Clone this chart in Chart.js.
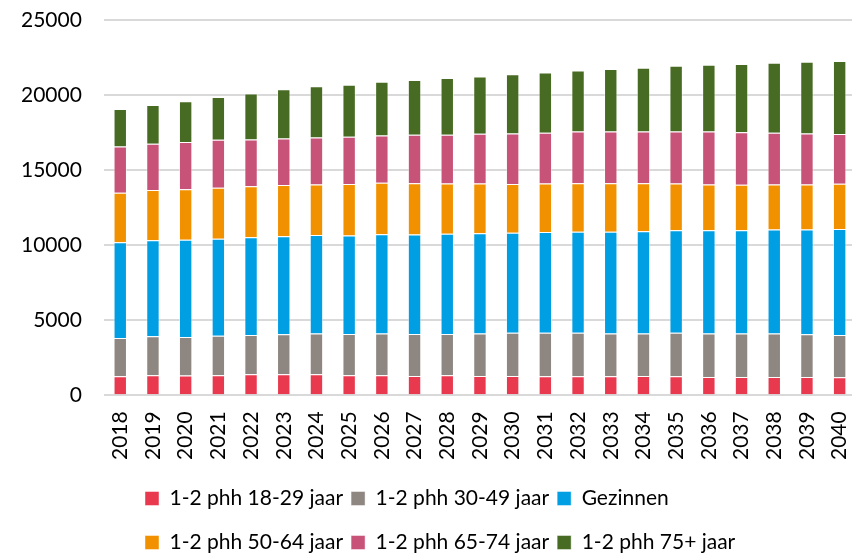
<!DOCTYPE html>
<html>
<head>
<meta charset="utf-8">
<script src="https://cdn.jsdelivr.net/npm/chart.js@4/dist/chart.umd.min.js"></script>
<style>
  html, body { margin: 0; padding: 0; background: #fff; overflow: hidden; }
</style>
</head>
<body>
<canvas id="chart" width="856" height="555"></canvas>
<script>
var years = ['2018', '2019', '2020', '2021', '2022', '2023', '2024', '2025', '2026', '2027', '2028', '2029',
  '2030', '2031', '2032', '2033', '2034', '2035', '2036', '2037', '2038', '2039', '2040']

// aantallen per huishoudtype (van onder naar boven gestapeld)
var phh1829 = [1270, 1330, 1310, 1330, 1400, 1400, 1400, 1330, 1330, 1290, 1330, 1290,
  1290, 1270, 1270, 1270, 1290, 1270, 1220, 1220, 1220, 1220, 1200]
var phh3049 = [2550, 2600, 2580, 2630, 2620, 2670, 2710, 2760, 2780, 2800, 2760, 2820,
  2870, 2890, 2890, 2840, 2820, 2890, 2890, 2890, 2890, 2850, 2820]
var gezinnen = [6380, 6400, 6470, 6460, 6510, 6530, 6560, 6550, 6620, 6620, 6670, 6690,
  6660, 6710, 6730, 6780, 6820, 6840, 6890, 6890, 6930, 6970, 7050]
var phh5064 = [3290, 3340, 3370, 3400, 3400, 3400, 3370, 3430, 3430, 3420, 3350, 3310,
  3250, 3240, 3240, 3240, 3200, 3110, 3040, 3020, 3000, 3000, 3020]
var phh6574 = [3090, 3090, 3140, 3200, 3110, 3110, 3140, 3150, 3150, 3230, 3250, 3310,
  3370, 3380, 3450, 3450, 3450, 3470, 3540, 3510, 3450, 3400, 3310]
var phh75 = [2490, 2570, 2710, 2850, 3070, 3270, 3400, 3470, 3580, 3640, 3770, 3820,
  3940, 4020, 4060, 4150, 4240, 4380, 4440, 4540, 4670, 4780, 4870]

var yTicks = [0, 5000, 10000, 15000, 20000, 25000]

var fontFamily = "Lato, 'Liberation Sans', sans-serif"

function serie (label, data, color) {
  return {
    label: label,
    data: data,
    backgroundColor: color,
    borderColor: 'rgba(255,255,255,0.45)',
    borderWidth: 1,
    barPercentage: 0.41,
    categoryPercentage: 1
  }
}

// legenda in twee rijen van drie, links uitgelijnd zoals in Excel
var legendRows = {
  id: 'legendRows',
  beforeUpdate: function (chart) {
    var lg = chart.legend
    if (!lg || lg._rows) return
    lg._rows = true
    var fit = lg.fit
    var draw = lg.draw
    lg.fit = function () {
      fit.call(this)
      this.height = 95
    }
    lg.draw = function () {
      var items = this.legendItems
      var l = this.left
      var r = this.right
      var t = this.top
      this.left = 145 - this.options.labels.padding
      this.right = this.left + 1000
      for (var row = 0; row < 2; row++) {
        this.legendItems = items.slice(row * 3, row * 3 + 3)
        this.top = t + 20 + row * 44
        draw.call(this)
      }
      this.legendItems = items
      this.left = l
      this.right = r
      this.top = t
    }
  }
}

new Chart(document.getElementById('chart'), {
  type: 'bar',
  data: {
    labels: years,
    datasets: [
      serie('1-2 phh 18-29 jaar', phh1829, '#E8394F'),
      serie('1-2 phh 30-49 jaar', phh3049, '#8E8680'),
      serie('Gezinnen', gezinnen, '#009FE3'),
      serie('1-2 phh 50-64 jaar', phh5064, '#F29100'),
      serie('1-2 phh 65-74 jaar', phh6574, '#C85378'),
      serie('1-2 phh 75+ jaar', phh75, '#476B22')
    ]
  },
  options: {
    responsive: false,
    animation: false,
    layout: { padding: { left: 21, right: 0, top: 20, bottom: 0 } },
    plugins: {
      tooltip: { enabled: false },
      legend: {
        position: 'bottom',
        align: 'start',
        labels: {
          boxWidth: 14,
          boxHeight: 14,
          padding: 8,
          color: '#000',
          font: { family: fontFamily, size: 21 }
        }
      }
    },
    scales: {
      x: {
        stacked: true,
        grid: {
          color: 'rgba(0,0,0,0)',
          drawOnChartArea: false,
          tickColor: 'rgba(0,0,0,0)',
          tickLength: 16
        },
        border: { display: false },
        ticks: {
          color: '#000',
          minRotation: 90,
          maxRotation: 90,
          padding: 0,
          font: { family: fontFamily, size: 21 }
        },
        afterFit: function (axis) {
          axis.paddingRight = 0
        }
      },
      y: {
        stacked: true,
        min: 0,
        max: 25000,
        afterBuildTicks: function (axis) {
          axis.ticks = yTicks.map(function (v) { return { value: v } })
        },
        grid: { color: '#D9D9D9', lineWidth: 2, tickColor: 'rgba(0,0,0,0)', tickLength: 22 },
        border: { display: false },
        ticks: {
          color: '#000',
          padding: 0,
          font: { family: fontFamily, size: 21 },
          callback: function (v) { return String(v) }
        }
      }
    }
  },
  plugins: [legendRows]
})
</script>
</body>
</html>
